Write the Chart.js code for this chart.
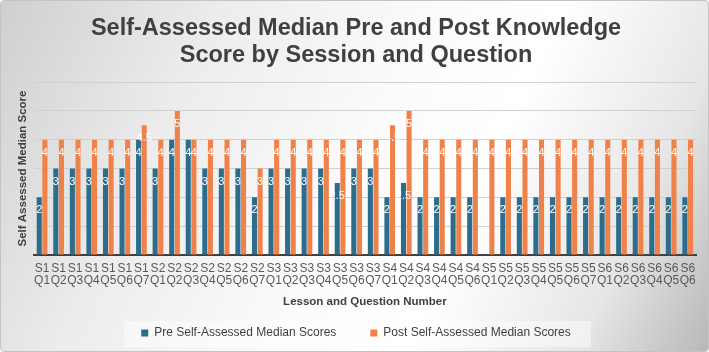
<!DOCTYPE html>
<html>
<head>
<meta charset="utf-8">
<script src="https://cdn.jsdelivr.net/npm/chart.js@4.4.1/dist/chart.umd.min.js"></script>
<style>
  html, body { margin: 0; padding: 0; }
  body { width: 709px; height: 352px; overflow: hidden; }
  #wrap {
    position: relative; width: 707px; height: 350px;
    border: 1px solid #c4c4c4; border-radius: 4px;
    background: linear-gradient(115deg, #cfcfcf 0%, #ececec 25%, #fbfbfb 50%, #ffffff 65%, #e6e6e6 85%, #b8b8b8 100%);
  }
  canvas { display: block; }
</style>
</head>
<body>
<div id="wrap"><canvas id="chart" width="707" height="350"></canvas></div>
<script>
const sessions = ['S1', 'S2', 'S3', 'S4', 'S5', 'S6'];
const questionsPerSession = [7, 7, 7, 6, 7, 6];

const preScores = [
  2, 3, 3, 3, 3, 3, 4,
  3, 4, 4, 3, 3, 3, 2,
  3, 3, 3, 3, 2.5, 3, 3,
  2, 2.5, 2, 2, 2, 2,
  null, 2, 2, 2, 2, 2, 2,
  2, 2, 2, 2, 2, 2
];
const postScores = [
  4, 4, 4, 4, 4, 4, 4.5,
  4, 5, 4, 4, 4, 4, 3,
  4, 4, 4, 4, 4, 4, 4,
  4.5, 5, 4, 4, 4, 4,
  4, 4, 4, 4, 4, 4, 4,
  4, 4, 4, 4, 4, 4
];

const labels = [];
sessions.forEach((s, i) => {
  for (let q = 1; q <= questionsPerSession[i]; q++) labels.push([s, 'Q' + q]);
});

const FONT = '"Liberation Sans", Arial, sans-serif';

// white value labels just inside the bar top
const barLabels = {
  id: 'barLabels',
  afterDatasetsDraw(chart) {
    const ctx = chart.ctx;
    ctx.save();
    ctx.fillStyle = '#ffffff';
    ctx.font = '11px ' + FONT;
    ctx.textAlign = 'center';
    ctx.textBaseline = 'middle';
    chart.data.datasets.forEach((ds, di) => {
      chart.getDatasetMeta(di).data.forEach((bar, i) => {
        const v = ds.data[i];
        if (v == null) return;
        ctx.fillText(String(v), bar.x, bar.y + 13);
      });
    });
    ctx.restore();
  }
};

// light panel behind the legend
const legendPanel = {
  id: 'legendPanel',
  beforeDraw(chart) {
    const lg = chart.legend;
    if (!lg) return;
    const ctx = chart.ctx;
    ctx.save();
    ctx.fillStyle = 'rgba(255,255,255,0.45)';
    ctx.fillRect(123, lg.top + 4, 467, lg.height - 6);
    ctx.restore();
  }
};

new Chart(document.getElementById('chart'), {
  type: 'bar',
  data: {
    labels: labels,
    datasets: [
      {
        label: 'Pre Self-Assessed Median Scores',
        data: preScores,
        backgroundColor: '#2c6c8c',
        categoryPercentage: 0.68,
        barPercentage: 0.9
      },
      {
        label: 'Post Self-Assessed Median Scores',
        data: postScores,
        backgroundColor: '#ee8249',
        categoryPercentage: 0.68,
        barPercentage: 0.9
      }
    ]
  },
  options: {
    responsive: false,
    animation: false,
    layout: { padding: { left: 15, right: 12, top: 4, bottom: 2 } },
    scales: {
      x: {
        grid: { display: false, drawTicks: false },
        border: { display: true, color: '#404040', width: 2 },
        ticks: {
          autoSkip: false, maxRotation: 0, minRotation: 0,
          color: '#595959', padding: 7,
          font: { family: FONT, size: 12, lineHeight: 1.05 }
        },
        title: {
          display: true, text: 'Lesson and Question Number',
          color: '#404040', padding: { top: 1, bottom: 8 },
          font: { family: FONT, size: 11.5, weight: 'bold' }
        }
      },
      y: {
        min: 0, max: 6,
        ticks: { display: false, stepSize: 1 },
        grid: { color: '#d0d0d0', drawTicks: false },
        border: { display: false },
        title: {
          display: true, text: 'Self Assessed Median Score',
          color: '#404040', padding: { top: 0, bottom: 4 },
          font: { family: FONT, size: 11.5, weight: 'bold' }
        }
      }
    },
    plugins: {
      title: {
        display: true,
        text: ['Self-Assessed Median Pre and Post Knowledge', 'Score by Session and Question'],
        color: '#404040',
        padding: { top: 10, bottom: 13 },
        font: { family: FONT, size: 23.5, weight: 'bold', lineHeight: 1.15 }
      },
      legend: {
        position: 'bottom',
        labels: {
          color: '#404040', boxWidth: 7, boxHeight: 7, padding: 10,
          font: { family: FONT, size: 12 },
          generateLabels(chart) {
            const items = Chart.defaults.plugins.legend.labels.generateLabels(chart);
            items.forEach((it, i) => { if (i === 0) it.text += '\u2003\u2003'; });
            return items;
          }
        }
      },
      tooltip: { enabled: false }
    }
  },
  plugins: [barLabels, legendPanel]
});
</script>
</body>
</html>
